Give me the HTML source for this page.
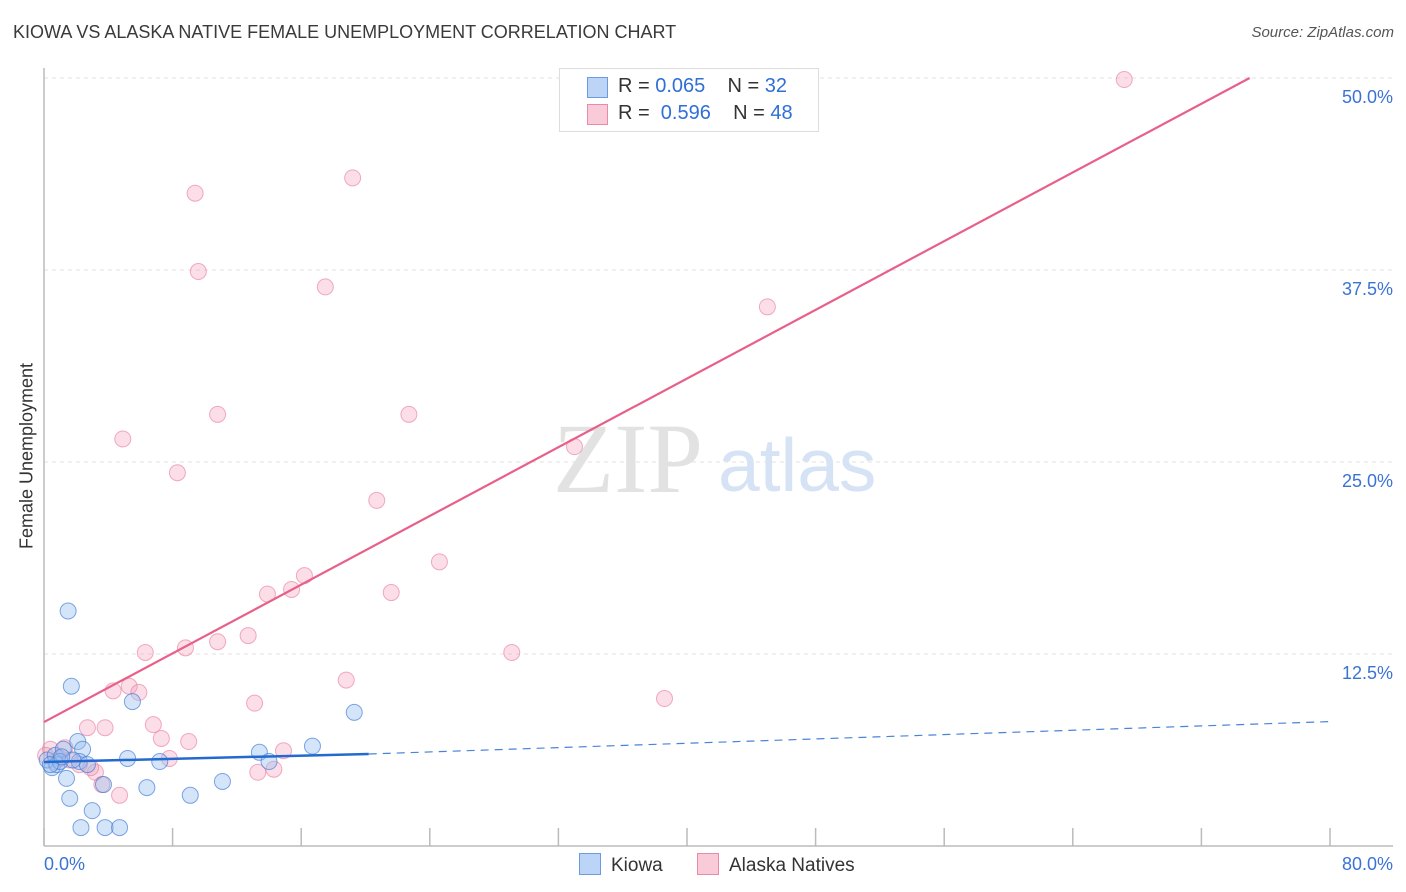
<!DOCTYPE html>
<html><head><meta charset="utf-8">
<style>
body{margin:0;background:#fff;font-family:"Liberation Sans",sans-serif;}
#wrap{position:relative;width:1406px;height:892px;overflow:hidden;}
.t{position:absolute;white-space:nowrap;}
</style></head><body>
<div id="wrap">
<div class="t" style="left:13px;top:22px;font-size:18px;color:#3a3a3a;">KIOWA VS ALASKA NATIVE FEMALE UNEMPLOYMENT CORRELATION CHART</div>
<div class="t" style="right:12px;top:24px;font-size:15px;color:#555;font-style:italic;">Source: ZipAtlas.com</div>
<svg id="svg" width="1406" height="892" style="position:absolute;left:0;top:0"></svg>
<div class="t" style="left:27px;top:456px;font-size:18px;color:#333;transform:translate(-50%,-50%) rotate(-90deg);">Female Unemployment</div>
</div>
<script>
const xTicks=[0,8,16,24,32,40,48,56,64,72,80];
const yTicks=[12.5,25,37.5,50];
const yTickLabels=["12.5%","25.0%","37.5%","50.0%"];
const xEndLabels=["0.0%","80.0%"];
const kiowaX=[1.5,1.7,5.5,19.3,0.5,0.2,0.7,1.2,2.1,2.4,0.8,1.4,1.6,2.3,3.0,3.8,4.7,3.7,5.2,6.4,7.2,9.1,11.1,13.4,14.0,16.7,2.2,1.0,0.4,2.7,1.8,1.1];
const kiowaY=[15.3,10.4,9.4,8.7,5.1,5.6,5.9,6.3,6.8,6.3,5.3,4.4,3.1,1.2,2.3,1.2,1.2,4.0,5.7,3.8,5.5,3.3,4.2,6.1,5.5,6.5,5.5,5.5,5.3,5.3,5.6,5.8];
const alaskaX=[67.2,19.2,9.4,9.6,17.5,45.0,10.8,22.7,4.9,8.3,33.0,20.7,24.6,16.2,15.4,13.9,21.6,12.7,10.8,6.3,8.8,29.1,18.8,5.3,5.9,4.3,38.6,13.1,6.8,2.7,3.8,9.0,7.3,14.9,7.8,13.3,14.3,3.2,3.6,4.7,0.4,1.0,1.6,2.2,2.9,0.7,0.1,1.3];
const alaskaY=[49.9,43.5,42.5,37.4,36.4,35.1,28.1,28.1,26.5,24.3,26.0,22.5,18.5,17.6,16.7,16.4,16.5,13.7,13.3,12.6,12.9,12.6,10.8,10.4,10.0,10.1,9.6,9.3,7.9,7.7,7.7,6.8,7.0,6.2,5.7,4.8,5.0,4.8,4.0,3.3,6.3,5.7,5.6,5.3,5.1,5.5,5.9,6.4];
const kiowaTrend=[[0,5.47],[20.2,5.99],[80,8.1]];
const alaskaTrend=[[0,8.07],[75,50]];
const X=v=>44+v*16.075, Y=v=>846-v*15.36;
const svg=document.getElementById('svg');
const NS='http://www.w3.org/2000/svg';
function mk(tag,attrs){const e=document.createElementNS(NS,tag);for(const k in attrs)e.setAttribute(k,attrs[k]);svg.appendChild(e);return e;}
yTicks.forEach((v,i)=>{
 const g=mk('line',{x1:44,x2:1393,y1:Y(v),y2:Y(v),stroke:'#e2e2e2','stroke-dasharray':'4,4','stroke-width':1});
 
 
 const t=mk('text',{x:1393,y:Y(v)+25,'text-anchor':'end','font-size':18,fill:'#3a73d4','font-family':'Liberation Sans'});
 t.textContent=yTickLabels[i];
 
 
});
const ax=mk('line',{x1:44,x2:44,y1:68,y2:846,stroke:'#bbb','stroke-width':1.5});


const bx=mk('line',{x1:44,x2:1393,y1:846,y2:846,stroke:'#bbb','stroke-width':1.5});


xTicks.forEach(v=>{
 const l=mk('line',{x1:X(v),x2:X(v),y1:828,y2:846,stroke:'#bbb','stroke-width':1.5});
 
 
});
[[0,'start',44],[80,'end',1393]].forEach((a,i)=>{
 const t=mk('text',{x:a[2],y:870,'text-anchor':a[1],'font-size':18,fill:'#3a73d4','font-family':'Liberation Sans'});
 t.textContent=xEndLabels[i];
 
 
});
const w1=mk('text',{x:553,y:492,'font-size':100,fill:'#e2e2e2','font-family':'Liberation Serif'});
w1.textContent='ZIP';


const w2=mk('text',{x:718,y:491,'font-size':75,fill:'#d6e3f5','font-family':'Liberation Sans'});
w2.textContent='atlas';


alaskaX.forEach((v,i)=>{
 const c=mk('circle',{cx:X(v),cy:Y(alaskaY[i]),r:8,fill:'rgba(244,160,185,0.35)',stroke:'rgba(232,120,155,0.6)','stroke-width':1});
 
 
});
kiowaX.forEach((v,i)=>{
 const c=mk('circle',{cx:X(v),cy:Y(kiowaY[i]),r:8,fill:'rgba(150,190,240,0.4)',stroke:'rgba(60,120,210,0.65)','stroke-width':1});
 
 
});
const pt=mk('line',{x1:X(alaskaTrend[0][0]),y1:Y(alaskaTrend[0][1]),x2:X(alaskaTrend[1][0]),y2:Y(alaskaTrend[1][1]),stroke:'#e8608a','stroke-width':2.2});


const kt=mk('line',{x1:X(kiowaTrend[0][0]),y1:Y(kiowaTrend[0][1]),x2:X(kiowaTrend[1][0]),y2:Y(kiowaTrend[1][1]),stroke:'#2469d0','stroke-width':2.5});


const kd=mk('line',{x1:X(kiowaTrend[1][0]),y1:Y(kiowaTrend[1][1]),x2:X(kiowaTrend[2][0]),y2:Y(kiowaTrend[2][1]),stroke:'#4a84d8','stroke-width':1.2,'stroke-dasharray':'8,6'});


</script>
<div class="t" style="left:559px;top:68px;width:258px;height:62px;border:1px solid #ddd;background:#fff;font-size:20px;color:#333;">
 <div style="position:absolute;left:27px;top:8px;width:19px;height:19px;background:#bcd4f5;border:1px solid #6a9be0;"></div>
 <div style="position:absolute;left:58px;top:6px;">R = <span style="color:#2f6fd6">0.065</span>&nbsp;&nbsp;&nbsp;&nbsp;N = <span style="color:#2f6fd6">32</span></div>
 <div style="position:absolute;left:27px;top:35px;width:19px;height:19px;background:#f9cad8;border:1px solid #e88aa8;"></div>
 <div style="position:absolute;left:58px;top:33px;">R = &nbsp;<span style="color:#2f6fd6">0.596</span>&nbsp;&nbsp;&nbsp;&nbsp;N = <span style="color:#2f6fd6">48</span></div>
</div>
<div class="t" style="left:579px;top:853px;font-size:19px;color:#333;">
 <span style="display:inline-block;width:20px;height:20px;background:#bcd4f5;border:1px solid #6a9be0;vertical-align:-4px;margin-right:10px;"></span>Kiowa</div>
<div class="t" style="left:697px;top:853px;font-size:19px;color:#333;">
 <span style="display:inline-block;width:20px;height:20px;background:#f9cad8;border:1px solid #e88aa8;vertical-align:-4px;margin-right:10px;"></span>Alaska Natives</div>
</body></html>
